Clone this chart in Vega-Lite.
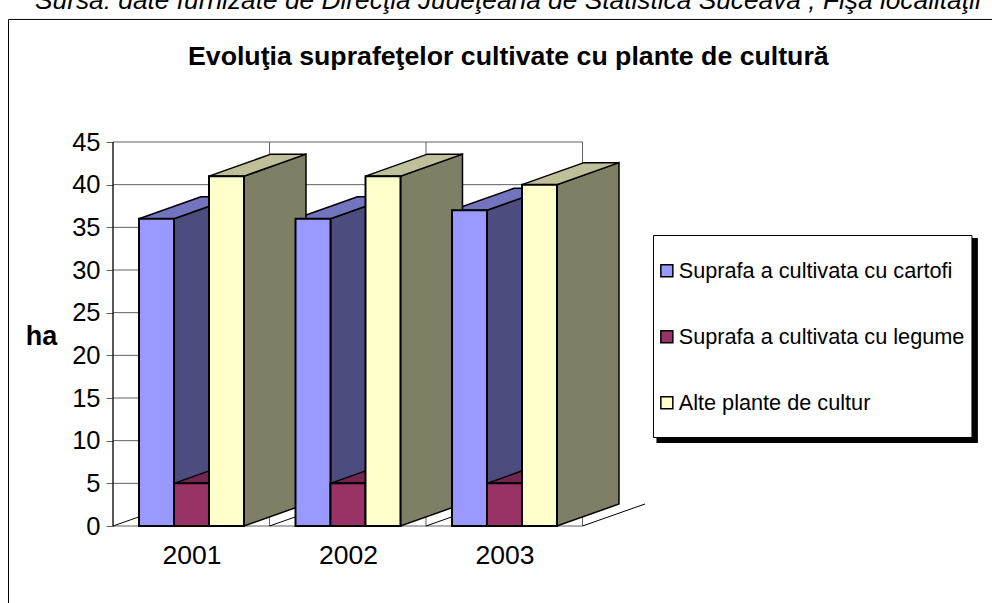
{"$schema":"https://vega.github.io/schema/vega-lite/v6.json","autosize":{"type":"none"},"width":532,"height":384,"padding":{"left":113,"top":142,"right":347,"bottom":77},"background":"white","view":{"stroke":null},
"resolve":{"axis":{"x":"independent","y":"independent"}},
"datasets":{"bars":[
{"year":2001,"series":"Suprafa a cultivata cu cartofi","value":36},{"year":2001,"series":"Suprafa a cultivata cu legume","value":5},{"year":2001,"series":"Alte plante de cultur","value":41},
{"year":2002,"series":"Suprafa a cultivata cu cartofi","value":36},{"year":2002,"series":"Suprafa a cultivata cu legume","value":5},{"year":2002,"series":"Alte plante de cultur","value":41},
{"year":2003,"series":"Suprafa a cultivata cu cartofi","value":37},{"year":2003,"series":"Suprafa a cultivata cu legume","value":5},{"year":2003,"series":"Alte plante de cultur","value":40}],
"levels":[{"level":0},{"level":5},{"level":10},{"level":15},{"level":20},{"level":25},{"level":30},{"level":35},{"level":40},{"level":45}],
"walls":[{"wall":2000.4984},{"wall":2001.4984},{"wall":2002.4984},{"wall":2003.4984}],
"note":[{"text":"Sursa: date furnizate de Direcţia Judeţeană de Statistică Suceava ; Fişa localităţii"}],
"heading":[{"text":"Evoluţia suprafeţelor cultivate cu plante de cultură"}]},
"layer":[
{"data":{"name":"note"},"mark":{"type":"rect","fill":"transparent","stroke":"black","strokeWidth":1},"encoding":{"x":{"datum":1999.8307,"type":"quantitative","scale":{"domain":[2000.4984,2003.8978],"nice":false,"zero":false},"axis":null},"x2":{"datum":2006.3},"y":{"datum":59.36,"type":"quantitative","scale":{"domain":[0,45],"nice":false},"axis":null},"y2":{"datum":-11}}},
{"data":{"name":"note"},"mark":{"type":"text","font":"Liberation Sans","fontSize":26.3,"fontStyle":"italic","align":"left","baseline":"alphabetic","color":"black"},"encoding":{"text":{"field":"text"},"x":{"datum":2000,"type":"quantitative","scale":{"domain":[2000.4984,2003.8978],"nice":false,"zero":false},"axis":null},"y":{"datum":60.6,"type":"quantitative","scale":{"domain":[0,45],"nice":false},"axis":null}}},
{"data":{"name":"heading"},"mark":{"type":"text","font":"Liberation Sans","fontSize":26.7,"fontWeight":"bold","align":"center","baseline":"alphabetic","color":"black"},"encoding":{"text":{"field":"text"},"x":{"datum":2003.0244,"type":"quantitative","scale":{"domain":[2000.4984,2003.8978],"nice":false,"zero":false},"axis":null},"y":{"datum":54,"type":"quantitative","scale":{"domain":[0,45],"nice":false},"axis":null}}},
{"data":{"name":"note"},"mark":{"type":"rect","fill":"black"},"encoding":{"x":{"datum":2003.971,"type":"quantitative","scale":{"domain":[2000.4984,2003.8978],"nice":false,"zero":false},"axis":null},"x2":{"datum":2006.025},"y":{"datum":33.75,"type":"quantitative","scale":{"domain":[0,45],"nice":false},"axis":null},"y2":{"datum":9.73}}},
{"data":{"name":"note"},"mark":{"type":"rect","fill":"white","stroke":"black","strokeWidth":1},"encoding":{"x":{"datum":2003.952,"type":"quantitative","scale":{"domain":[2000.4984,2003.8978],"nice":false,"zero":false},"axis":null},"x2":{"datum":2005.987},"y":{"datum":34.04,"type":"quantitative","scale":{"domain":[0,45],"nice":false},"axis":null},"y2":{"datum":10.37}}},
{"data":{"name":"levels"},"mark":{"type":"rule","color":"#606060","strokeWidth":1},"encoding":{"x":{"datum":2000.4984,"type":"quantitative","scale":{"domain":[2000.4984,2003.8978],"nice":false,"zero":false},"axis":null},"x2":{"datum":2003.4984},"y":{"field":"level","type":"quantitative","scale":{"domain":[0,45],"nice":false},"axis":null}}},
{"data":{"name":"walls"},"mark":{"type":"rule","color":"#606060","strokeWidth":1},"encoding":{"x":{"field":"wall","type":"quantitative","scale":{"domain":[2000.4984,2003.8978],"nice":false,"zero":false},"axis":null},"y":{"datum":0,"type":"quantitative","scale":{"domain":[0,45],"nice":false},"axis":null},"y2":{"datum":45}}},
{"data":{"name":"walls"},"transform":[{"calculate":"datum.wall+0.3994","as":"wallEnd"}],"mark":{"type":"rule","color":"black","strokeWidth":1},"encoding":{"x":{"field":"wall","type":"quantitative","scale":{"domain":[2000.4984,2003.8978],"nice":false,"zero":false},"axis":null},"x2":{"field":"wallEnd"},"y":{"datum":0,"type":"quantitative","scale":{"domain":[0,45],"nice":false},"axis":null},"y2":{"datum":2.578}}},
{"data":{"name":"note"},"mark":{"type":"rule","color":"black","strokeWidth":1},"encoding":{"x":{"datum":2000.4984,"type":"quantitative","scale":{"domain":[2000.4984,2003.8978],"nice":false,"zero":false},"axis":null},"y":{"datum":0,"type":"quantitative","scale":{"domain":[0,45],"nice":false},"axis":null},"y2":{"datum":45}}},
{"data":{"name":"bars"},"transform":[{"filter":"datum.series=='Suprafa a cultivata cu cartofi'"},{"calculate":"[0,1]","as":"t"},{"flatten":["t"]},{"calculate":"datum.year-0.3354+0.2236+datum.t*0.3962","as":"xs"},{"calculate":"datum.value+datum.t*2.578","as":"yt"},{"calculate":"datum.t*2.578","as":"yb"}],"mark":{"type":"area","fill":"#4C4C7F","stroke":"black","strokeWidth":1.5},"encoding":{"x":{"field":"xs","type":"quantitative","scale":{"domain":[2000.4984,2003.8978],"nice":false,"zero":false},"axis":null},"y":{"field":"yt","type":"quantitative","scale":{"domain":[0,45],"nice":false},"axis":null},"y2":{"field":"yb"},"detail":{"field":"year"}}},
{"data":{"name":"bars"},"transform":[{"filter":"datum.series=='Suprafa a cultivata cu cartofi'"},{"calculate":"[0,1]","as":"t"},{"flatten":["t"]},{"calculate":"datum.year-0.3354+datum.t*0.3962","as":"xl"},{"calculate":"datum.xl+0.2236","as":"xr"},{"calculate":"datum.value+datum.t*2.578","as":"yt"}],"mark":{"type":"area","orient":"horizontal","fill":"#7373BF","stroke":"black","strokeWidth":1.5},"encoding":{"x":{"field":"xl","type":"quantitative","scale":{"domain":[2000.4984,2003.8978],"nice":false,"zero":false},"axis":null},"x2":{"field":"xr"},"y":{"field":"yt","type":"quantitative","scale":{"domain":[0,45],"nice":false},"axis":null},"detail":{"field":"year"}}},
{"data":{"name":"bars"},"transform":[{"filter":"datum.series=='Suprafa a cultivata cu legume'"},{"calculate":"[0,1]","as":"t"},{"flatten":["t"]},{"calculate":"datum.year-0.1118+datum.t*0.3962","as":"xl"},{"calculate":"datum.xl+0.2236","as":"xr"},{"calculate":"datum.value+datum.t*2.578","as":"yt"}],"mark":{"type":"area","orient":"horizontal","fill":"#732650","stroke":"black","strokeWidth":1.5},"encoding":{"x":{"field":"xl","type":"quantitative","scale":{"domain":[2000.4984,2003.8978],"nice":false,"zero":false},"axis":null},"x2":{"field":"xr"},"y":{"field":"yt","type":"quantitative","scale":{"domain":[0,45],"nice":false},"axis":null},"detail":{"field":"year"}}},
{"data":{"name":"bars"},"transform":[{"filter":"datum.series=='Alte plante de cultur'"},{"calculate":"[0,1]","as":"t"},{"flatten":["t"]},{"calculate":"datum.year+0.1118+0.2236+datum.t*0.3962","as":"xs"},{"calculate":"datum.value+datum.t*2.578","as":"yt"},{"calculate":"datum.t*2.578","as":"yb"}],"mark":{"type":"area","fill":"#7F7F66","stroke":"black","strokeWidth":1.5},"encoding":{"x":{"field":"xs","type":"quantitative","scale":{"domain":[2000.4984,2003.8978],"nice":false,"zero":false},"axis":null},"y":{"field":"yt","type":"quantitative","scale":{"domain":[0,45],"nice":false},"axis":null},"y2":{"field":"yb"},"detail":{"field":"year"}}},
{"data":{"name":"bars"},"transform":[{"filter":"datum.series=='Alte plante de cultur'"},{"calculate":"[0,1]","as":"t"},{"flatten":["t"]},{"calculate":"datum.year+0.1118+datum.t*0.3962","as":"xl"},{"calculate":"datum.xl+0.2236","as":"xr"},{"calculate":"datum.value+datum.t*2.578","as":"yt"}],"mark":{"type":"area","orient":"horizontal","fill":"#BFBF99","stroke":"black","strokeWidth":1.5},"encoding":{"x":{"field":"xl","type":"quantitative","scale":{"domain":[2000.4984,2003.8978],"nice":false,"zero":false},"axis":null},"x2":{"field":"xr"},"y":{"field":"yt","type":"quantitative","scale":{"domain":[0,45],"nice":false},"axis":null},"detail":{"field":"year"}}},
{"data":{"name":"bars"},"transform":[{"calculate":"indexof(['Suprafa a cultivata cu cartofi','Suprafa a cultivata cu legume','Alte plante de cultur'],datum.series)","as":"i"},{"calculate":"datum.year+(datum.i-1.5)*0.2236","as":"xl"},{"calculate":"datum.xl+0.2236","as":"xr"}],"mark":{"type":"rect","stroke":"black","strokeWidth":2},
"encoding":{"x":{"field":"xl","type":"quantitative","scale":{"domain":[2000.4984,2003.8978],"nice":false,"zero":false},"axis":{"title":null,"values":[2001,2002,2003],"format":"d","ticks":false,"domain":false,"grid":false,"labelFont":"Liberation Sans","labelFontSize":26.5,"labelColor":"black","labelPadding":16,"labelFlush":false}},"x2":{"field":"xr"},
"y":{"field":"value","type":"quantitative","scale":{"domain":[0,45],"nice":false},"axis":{"title":"ha","titleAngle":0,"titleX":-72,"titleY":202,"titleAlign":"center","titleBaseline":"alphabetic","titleFont":"Liberation Sans","titleFontSize":27,"titleFontWeight":"bold","titleColor":"black","values":[0,5,10,15,20,25,30,35,40,45],"grid":false,"domain":false,"tickColor":"#606060","tickSize":7,"labelFont":"Liberation Sans","labelFontSize":25.5,"labelColor":"black","labelPadding":6}},"y2":{"datum":0},
"color":{"field":"series","type":"nominal","scale":{"domain":["Suprafa a cultivata cu cartofi","Suprafa a cultivata cu legume","Alte plante de cultur"],"range":["#9999FF","#993366","#FFFFCC"]},"legend":{"title":null,"orient":"none","legendX":543,"legendY":118,"padding":0,"symbolType":"square","symbolSize":144,"symbolStrokeColor":"black","symbolStrokeWidth":1.5,"symbolOpacity":1,"labelFont":"Liberation Sans","labelFontSize":21.7,"labelColor":"black","labelOffset":1,"labelLimit":320,"rowPadding":43}}}}
]}
